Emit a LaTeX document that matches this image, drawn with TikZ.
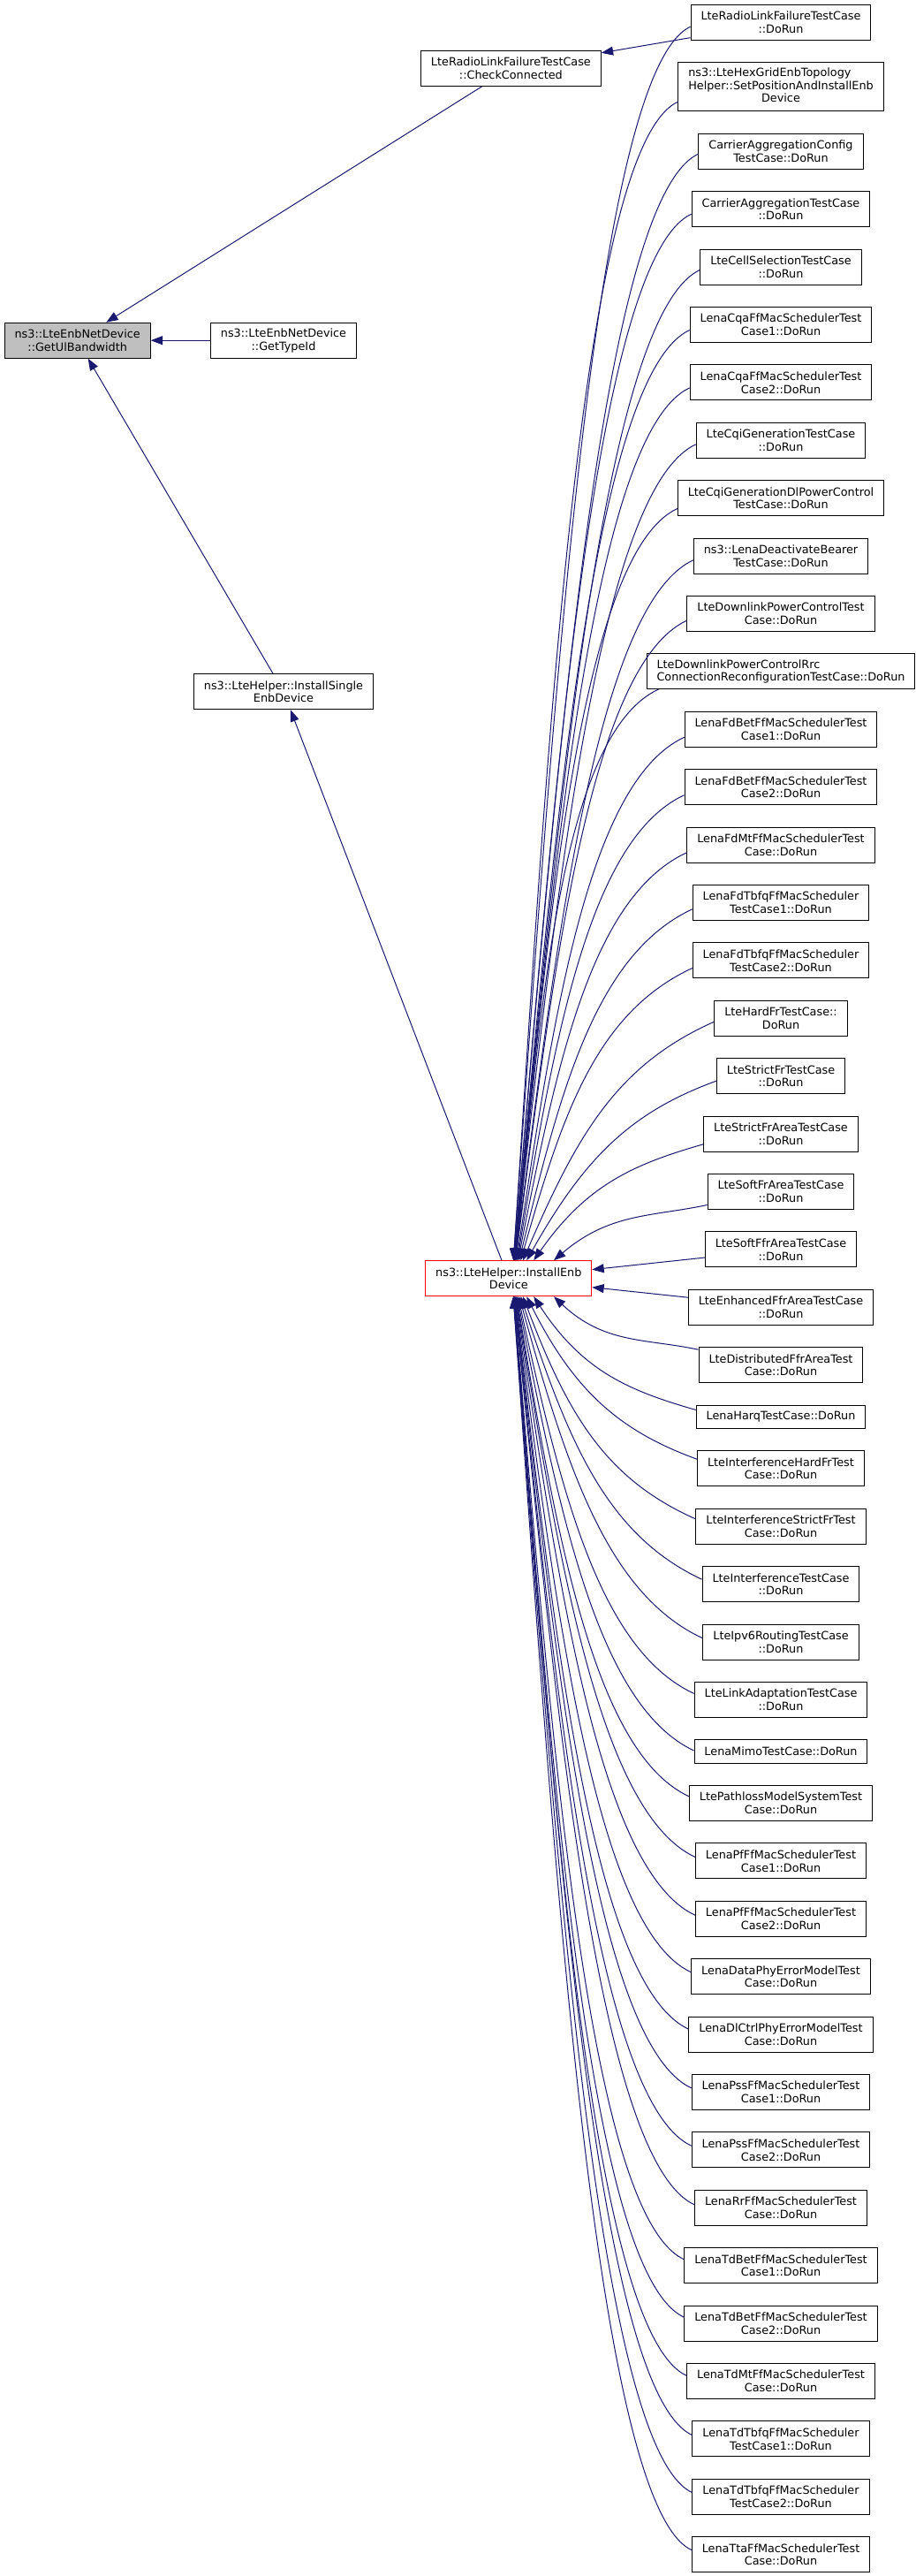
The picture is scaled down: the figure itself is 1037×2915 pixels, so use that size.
\documentclass[tikz,border=0pt]{standalone}
\usepackage{fontspec}
\setmainfont{DejaVu Sans}
\usetikzlibrary{arrows.meta,calc}
\definecolor{edgeblue}{HTML}{191970}
\definecolor{rootgray}{HTML}{BFBFBF}
\begin{document}
\begin{tikzpicture}[x=0.75pt,y=-0.75pt,
  box/.style={draw=black, line width=0.75pt, fill=white,
    font=\fontsize{9.6pt}{11pt}\selectfont, align=center,
    inner xsep=8.6pt, inner ysep=0pt, minimum height=30pt},
  rbox/.style={box, anchor=north},
  onel/.style={minimum height=19.7pt},
  threel/.style={minimum height=41.5pt},
  edge/.style={draw=edgeblue, line width=0.75pt, -{Triangle[length=10pt,width=7.5pt]}},
]
\fill[white] (0,0) rectangle (1037,2915);
\useasboundingbox (0,0) rectangle (1037,2915);

% left part
\node[box, fill=rootgray] (GU) at (87.7,385.2) {ns3::LteEnbNetDevice\\::GetUlBandwidth};
\node[box] (GT) at (321,385.2) {ns3::LteEnbNetDevice\\::GetTypeId};
\node[box] (CC) at (578.4,77.2) {LteRadioLinkFailureTestCase\\::CheckConnected};
\node[box] (IS) at (321,782.7) {ns3::LteHelper::InstallSingle\\EnbDevice};
\node[box, draw=red] (IE) at (575.8,1446.7) {ns3::LteHelper::InstallEnb\\Device};

% right column
\node[rbox] (n1) at (884,4.7) {LteRadioLinkFailureTestCase\\::DoRun};
\node[rbox, threel] (n2) at (884,70.1) {\begin{tabular}{@{}l@{}}ns3::LteHexGridEnbTopology\\Helper::SetPositionAndInstallEnb\\\multicolumn{1}{@{}c@{}}{Device}\end{tabular}};
\node[rbox] (n3) at (884,150.8) {CarrierAggregationConfig\\TestCase::DoRun};
\node[rbox] (n4) at (884,216.2) {CarrierAggregationTestCase\\::DoRun};
\node[rbox] (n5) at (884,281.6) {LteCellSelectionTestCase\\::DoRun};
\node[rbox] (n6) at (884,347.0) {LenaCqaFfMacSchedulerTest\\Case1::DoRun};
\node[rbox] (n7) at (884,412.4) {LenaCqaFfMacSchedulerTest\\Case2::DoRun};
\node[rbox] (n8) at (884,477.8) {LteCqiGenerationTestCase\\::DoRun};
\node[rbox] (n9) at (884,543.2) {LteCqiGenerationDlPowerControl\\TestCase::DoRun};
\node[rbox] (n10) at (884,608.6) {ns3::LenaDeactivateBearer\\TestCase::DoRun};
\node[rbox] (n11) at (884,674.0) {LteDownlinkPowerControlTest\\Case::DoRun};
\node[rbox, align=left] (n12) at (884,739.4) {LteDownlinkPowerControlRrc\\ConnectionReconfigurationTestCase::DoRun};
\node[rbox] (n13) at (884,804.8) {LenaFdBetFfMacSchedulerTest\\Case1::DoRun};
\node[rbox] (n14) at (884,870.2) {LenaFdBetFfMacSchedulerTest\\Case2::DoRun};
\node[rbox] (n15) at (884,935.6) {LenaFdMtFfMacSchedulerTest\\Case::DoRun};
\node[rbox] (n16) at (884,1001.0) {LenaFdTbfqFfMacScheduler\\TestCase1::DoRun};
\node[rbox] (n17) at (884,1066.4) {LenaFdTbfqFfMacScheduler\\TestCase2::DoRun};
\node[rbox] (n18) at (884,1131.8) {LteHardFrTestCase::\\DoRun};
\node[rbox] (n19) at (884,1197.2) {LteStrictFrTestCase\\::DoRun};
\node[rbox] (n20) at (884,1262.6) {LteStrictFrAreaTestCase\\::DoRun};
\node[rbox] (n21) at (884,1328.0) {LteSoftFrAreaTestCase\\::DoRun};
\node[rbox] (n22) at (884,1393.4) {LteSoftFfrAreaTestCase\\::DoRun};
\node[rbox] (n23) at (884,1458.8) {LteEnhancedFfrAreaTestCase\\::DoRun};
\node[rbox] (n24) at (884,1524.2) {LteDistributedFfrAreaTest\\Case::DoRun};
\node[rbox, onel] (n25) at (884,1589.6) {LenaHarqTestCase::DoRun};
\node[rbox] (n26) at (884,1641.3) {LteInterferenceHardFrTest\\Case::DoRun};
\node[rbox] (n27) at (884,1706.7) {LteInterferenceStrictFrTest\\Case::DoRun};
\node[rbox] (n28) at (884,1772.1) {LteInterferenceTestCase\\::DoRun};
\node[rbox] (n29) at (884,1837.5) {LteIpv6RoutingTestCase\\::DoRun};
\node[rbox] (n30) at (884,1902.9) {LteLinkAdaptationTestCase\\::DoRun};
\node[rbox, onel] (n31) at (884,1968.3) {LenaMimoTestCase::DoRun};
\node[rbox] (n32) at (884,2020.0) {LtePathlossModelSystemTest\\Case::DoRun};
\node[rbox] (n33) at (884,2085.4) {LenaPfFfMacSchedulerTest\\Case1::DoRun};
\node[rbox] (n34) at (884,2150.8) {LenaPfFfMacSchedulerTest\\Case2::DoRun};
\node[rbox] (n35) at (884,2216.2) {LenaDataPhyErrorModelTest\\Case::DoRun};
\node[rbox] (n36) at (884,2281.6) {LenaDlCtrlPhyErrorModelTest\\Case::DoRun};
\node[rbox] (n37) at (884,2347.0) {LenaPssFfMacSchedulerTest\\Case1::DoRun};
\node[rbox] (n38) at (884,2412.4) {LenaPssFfMacSchedulerTest\\Case2::DoRun};
\node[rbox] (n39) at (884,2477.8) {LenaRrFfMacSchedulerTest\\Case::DoRun};
\node[rbox] (n40) at (884,2543.2) {LenaTdBetFfMacSchedulerTest\\Case1::DoRun};
\node[rbox] (n41) at (884,2608.6) {LenaTdBetFfMacSchedulerTest\\Case2::DoRun};
\node[rbox] (n42) at (884,2674.0) {LenaTdMtFfMacSchedulerTest\\Case::DoRun};
\node[rbox] (n43) at (884,2739.4) {LenaTdTbfqFfMacScheduler\\TestCase1::DoRun};
\node[rbox] (n44) at (884,2804.8) {LenaTdTbfqFfMacScheduler\\TestCase2::DoRun};
\node[rbox] (n45) at (884,2870.2) {LenaTtaFfMacSchedulerTest\\Case::DoRun};

% straight edges
\draw[edge] (CC) -- (GU);
\draw[edge] (GT) -- (GU);
\draw[edge] (IS) -- (GU);
\draw[edge] (IE) -- (IS);
\draw[edge] (n1) -- (CC);
\draw[edge] (n22) -- (IE);
\draw[edge] (n23) -- (IE);

% curved edges into InstallEnbDevice
\foreach \i/\k/\sx/\s/\side in {
  1/20/0/5/north, 2/19/0/17/north, 3/18/0/3/north, 4/17/0/5.5/north,
  5/16/0/3.4/north, 6/15/0/6/north, 7/14/0/6/north, 8/13/0/4.5/north,
  9/12/0/11.8/north, 10/11/0/4.7/north, 11/10/0/7.7/north, 12/9/14/20/north,
  13/8/0/9/north, 14/7/0/9/north, 15/6/0/8.7/north, 16/5/0/7.3/north,
  17/4/0/8.6/north, 18/3/0/4/north, 19/2/0/5.5/north, 20/1/0/11.7/north,
  21/0/0/15/north,
  24/0/0/-17.5/south, 25/1/0/-7.8/south, 26/2/0/-10.6/south, 27/3/0/-8.4/south,
  28/4/0/-5.4/south, 29/5/0/-4.2/south, 30/6/0/-7/south, 31/7/0/-1/south,
  32/8/0/-7.7/south, 33/9/0/-4.4/south, 34/10/0/-4/south, 35/11/0/-5/south,
  36/12/0/-6/south, 37/13/0/-4.7/south, 38/14/0/-4.7/south, 39/15/0/-3.5/south,
  40/16/0/-7/south, 41/17/0/-7/south, 42/18/0/-6.3/south, 43/19/0/-4.4/south,
  44/20/0/-4.8/south, 45/21/0/-5.2/south}{
  \pgfmathsetmacro\DX{2.2+49/((1+\k)^0.9)}
  \pgfmathsetmacro\al{min(25,12+4*\k)}
  \coordinate (S) at ($(n\i.west)+(\sx,\s)$);
  \coordinate (E) at ($(IE.\side)+(\DX,0)$);
  \pgfpointanchor{S}{center}\pgfgetlastxy{\Xs}{\Ys}
  \pgfpointanchor{E}{center}\pgfgetlastxy{\Xe}{\Ye}
  \pgfmathsetmacro\dist{veclen(\Xe-\Xs,\Ye-\Ys)}
  \pgfmathsetmacro\Lone{min(0.35*\dist,90)}
  \pgfmathsetmacro\Ltwo{0.45*\dist}
  \pgfmathsetmacro\sg{ifthenelse(\Ye>\Ys,1,-1)}
  \pgfmathsetmacro\aout{180-\al*\sg}
  \pgfmathsetmacro\ain{atan2(\Ys-\Ye,\Xs-75-\Xe)}
  \draw[edge] (S) .. controls ($(S)+(\aout:\Lone pt)$) and ($(E)+(\ain:\Ltwo pt)$) .. (E);
}
\end{tikzpicture}
\end{document}
